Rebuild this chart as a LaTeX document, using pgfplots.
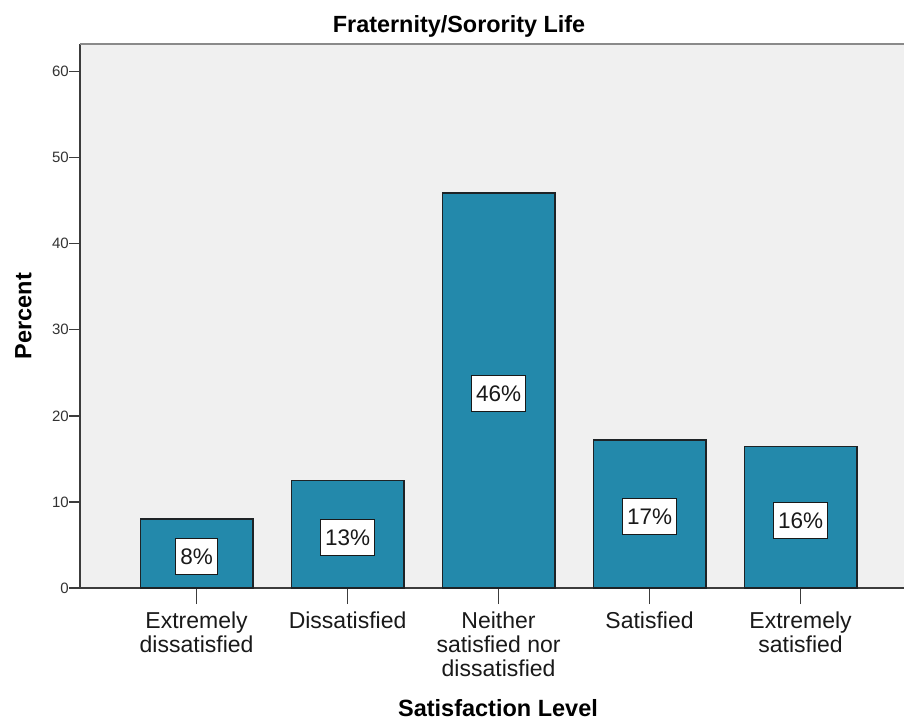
\documentclass[border=0pt]{standalone}
\usepackage{pgfplots}
\pgfplotsset{compat=1.18}
\usepackage{pgfplotstable}
\usepackage{fontspec}
\setmainfont{Liberation Sans}
\definecolor{barcol}{RGB}{35,137,171}
\definecolor{barline}{RGB}{30,35,38}
\definecolor{bggray}{RGB}{240,240,240}
\definecolor{axcol}{RGB}{60,60,60}
\definecolor{topcol}{RGB}{138,138,138}
\definecolor{ticktext}{RGB}{50,50,50}
\pgfplotstableread{
x y lab
0 8.0 8
1 12.5 13
2 45.9 46
3 17.2 17
4 16.4 16
}\datatable
\begin{document}
\begin{tikzpicture}[x=1pt,y=1pt]
\useasboundingbox (-80,-133) rectangle (824,588);
\begin{axis}[
  at={(0,0)}, anchor=south west,
  scale only axis, width=824pt, height=544pt,
  xmin=-0.772, xmax=4.685, ymin=0, ymax=63.2,
  axis x line*=bottom, axis y line*=left,
  axis line style={-, draw=axcol, line width=1.3pt},
  axis background/.style={fill=bggray},
  tick align=outside,
  major tick length=11pt,
  tick style={draw=axcol, line width=1.3pt},
  xtick style={/pgfplots/major tick length=16pt},
  xtick={0,1,2,3,4},
  xticklabels={{Extremely\\dissatisfied},{Dissatisfied},{Neither\\satisfied nor\\dissatisfied},{Satisfied},{Extremely\\satisfied}},
  x tick label style={font=\fontsize{23}{24}\selectfont, align=center, text=black!90, inner sep=0pt, anchor=north, yshift=-13pt},
  ytick={0,10,20,30,40,50,60},
  y tick label style={font=\fontsize{15}{16}\selectfont, text=ticktext, inner sep=0pt},
  /pgf/number format/assume math mode=true,
  title={Fraternity/Sorority Life},
  title style={font=\bfseries\fontsize{23.4}{25}\selectfont, at={(rel axis cs:0.4600,1.0092)}, anchor=base},
  xlabel={Satisfaction Level},
  xlabel style={font=\bfseries\fontsize{23.5}{25}\selectfont, at={(rel axis cs:0.5073,-0.2371)}, anchor=base},
  ylabel={Percent},
  ylabel style={font=\bfseries\fontsize{23.5}{25}\selectfont, at={(rel axis cs:-0.0590,0.5)}, anchor=base, rotate=0},
  clip=false,
]
\addplot[ybar, bar width=0.746, fill=barcol, draw=barline, line width=1.3pt] table[x=x, y=y] {\datatable};
\addplot[draw=none, mark=none, point meta=explicit,
  nodes near coords={\pgfmathprintnumber{\pgfplotspointmeta}\%},
  nodes near coords style={anchor=center, yshift=-3pt, fill=white, draw=black!90, line width=1pt,
    font=\fontsize{22.5}{24}\selectfont, text=black!90, inner xsep=4.7pt, inner ysep=0pt,
    text height=16pt, text depth=0pt, minimum height=36pt}]
  table[x=x, y expr=\thisrow{y}/2, meta=lab] {\datatable};
\draw[topcol, line width=2pt] (rel axis cs:0,1) -- (rel axis cs:1,1);
\end{axis}
\end{tikzpicture}
\end{document}
